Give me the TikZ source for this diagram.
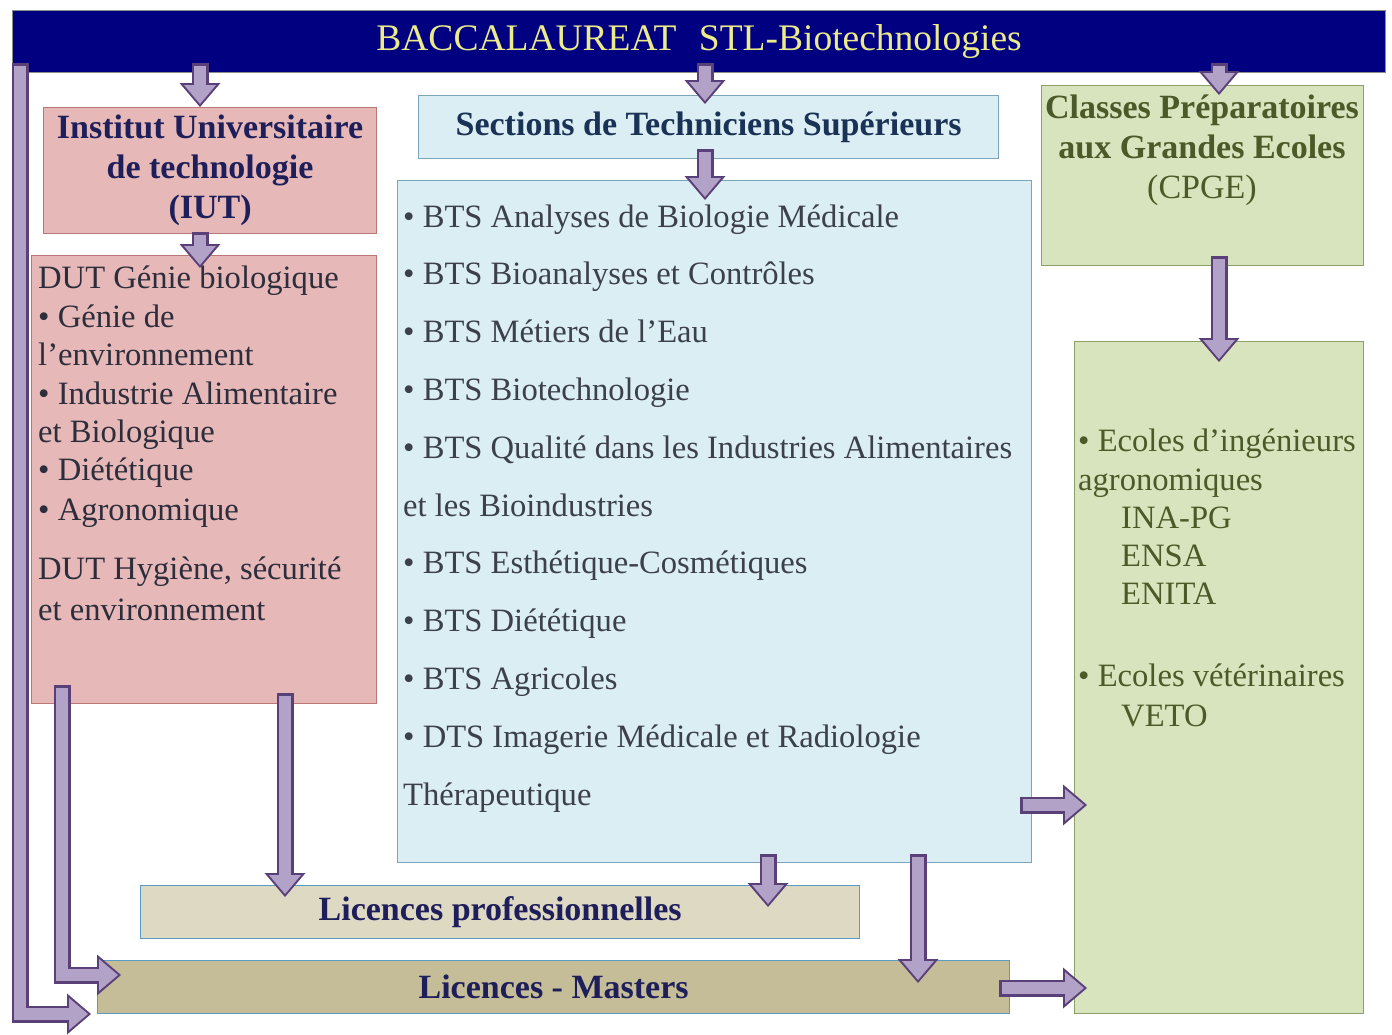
\documentclass[tikz,border=0pt]{standalone}
\usepackage{fontspec}
\setmainfont{Liberation Serif}
\usetikzlibrary{arrows.meta,positioning}

\definecolor{bacblue}{RGB}{0,0,128}
\definecolor{bactext}{RGB}{235,235,140}
\definecolor{iutfill}{RGB}{230,185,184}
\definecolor{iutline}{RGB}{185,120,118}
\definecolor{stsfill}{RGB}{219,238,244}
\definecolor{stsline}{RGB}{125,165,185}
\definecolor{cpgefill}{RGB}{215,228,189}
\definecolor{cpgeline}{RGB}{140,160,105}
\definecolor{lpfill}{RGB}{221,217,195}
\definecolor{lmfill}{RGB}{196,189,151}
\definecolor{licline}{RGB}{90,155,195}
\definecolor{arrowfill}{RGB}{179,162,199}
\definecolor{arrowline}{RGB}{90,64,120}
\definecolor{navytext}{RGB}{30,30,90}
\definecolor{ststext}{RGB}{25,50,85}
\definecolor{cpgetext}{RGB}{75,90,40}
\definecolor{listgray}{RGB}{60,64,72}
\definecolor{dutgray}{RGB}{45,45,60}

\newcommand\headsize{\fontsize{34}{40}\selectfont}
\newcommand\listsize{\fontsize{32.6}{38.5}\selectfont}
\newcommand\bacsize{\fontsize{37.5}{40}\selectfont}

\tikzset{
  box/.style={draw, line width=1.2pt, inner sep=0pt, anchor=north west},
  iutbox/.style={box, fill=iutfill, draw=iutline},
  stsbox/.style={box, fill=stsfill, draw=stsline},
  cpgebox/.style={box, fill=cpgefill, draw=cpgeline},
  licbox/.style={box, draw=licline, font=\headsize\bfseries, text=navytext},
  listtext/.style={anchor=base west, inner sep=0pt, font=\listsize},
  flow/.style={draw=arrowfill, line width=12pt, shorten <=2.5pt, shorten >=3pt,
    -{Triangle[width=32pt,length=19pt,line width=0pt]},
    preaction={draw=arrowline, line width=17pt, shorten <=0pt, shorten >=0pt,
      -{Triangle[width=41pt,length=24pt,line width=0pt]}}},
}

\begin{document}
\begin{tikzpicture}[x=1pt,y=-1pt]
  \useasboundingbox (0,0) rectangle (1392,1034);

  % boxes
  \node[box, fill=bacblue, draw=bactext!60!bacblue, minimum width=1373pt, minimum height=62pt,
    text=bactext, font=\bacsize] (bac) at (12,10) {BACCALAUREAT\hspace{0.6em}STL-Biotechnologies};
  \node[iutbox, minimum width=333pt, minimum height=126pt, align=center,
    font=\headsize\bfseries, text=navytext] (iut) at (43,107) {Institut Universitaire\\de technologie\\(IUT)};
  \node[iutbox, minimum width=345pt, minimum height=448pt] (dut) at (31,255) {};
  \node[stsbox, minimum width=580pt, minimum height=63pt, font=\headsize\bfseries,
    text=ststext] (sts) at (418,95) {Sections de Techniciens Supérieurs};
  \node[stsbox, minimum width=634pt, minimum height=682pt] (bts) at (397,180) {};
  \node[cpgebox, minimum width=322pt, minimum height=180pt] (cpge) at (1041,85) {};
  \node[cpgebox, minimum width=289pt, minimum height=672pt] (ecoles) at (1074,341) {};
  \node[licbox, fill=lpfill, minimum width=719pt, minimum height=53pt] (lp) at (140,885) {Licences professionnelles};
  \node[licbox, fill=lmfill, minimum width=912pt, minimum height=53pt] (lm) at (97,960) {Licences - Masters};

  % texts
  \node[anchor=north, align=center, inner sep=0pt, text=cpgetext, font=\headsize] (cpgetitle)
    at (1202,95) {\textbf{Classes Préparatoires}\\\textbf{aux Grandes Ecoles}\\(CPGE)};
  \foreach \y/\txt [count=\i] in {288/{DUT Génie biologique}, 327/{\textbullet\ Génie de},
      365/{l’environnement}, 404/{\textbullet\ Industrie Alimentaire}, 442/{et Biologique},
      480/{\textbullet\ Diététique}, 520/{\textbullet\ Agronomique},
      579/{DUT Hygiène, sécurité}, 620/{et environnement}}
    \node[listtext, text=dutgray] (dut\i) at (38,\y) {\txt};
  \foreach \txt [count=\i from 0] in {\textbullet\ BTS Analyses de Biologie Médicale,
      \textbullet\ BTS Bioanalyses et Contrôles, \textbullet\ BTS Métiers de l’Eau,
      \textbullet\ BTS Biotechnologie, \textbullet\ BTS Qualité dans les Industries Alimentaires,
      et les Bioindustries, \textbullet\ BTS Esthétique-Cosmétiques, \textbullet\ BTS Diététique,
      \textbullet\ BTS Agricoles, \textbullet\ DTS Imagerie Médicale et Radiologie, Thérapeutique}
    \node[listtext, text=listgray] (bts\i) at (403,227+57.8*\i) {\txt};
  \foreach \x/\y/\txt [count=\i] in {1078/451/{\textbullet\ Ecoles d’ingénieurs},
      1078/490/agronomiques, 1121/528/INA-PG, 1121/566/ENSA, 1121/604/ENITA,
      1078/686/{\textbullet\ Ecoles vétérinaires}, 1121/726/VETO}
    \node[listtext, text=cpgetext] (ecole\i) at (\x,\y) {\txt};

  % arrows
  \coordinate (iutin) at (200,107);
  \coordinate (stsin) at (705,104);
  \coordinate (cpgein) at (1219,95);
  \coordinate (dutin) at (200,268);
  \coordinate (btsin) at (705,200);
  \coordinate (ecolesin) at (1219,362);
  \coordinate (lpin) at (285,897);
  \coordinate (lpin2) at (768,907);
  \coordinate (lmin) at (918,983);
  \coordinate (ecolesin2) at (1087,805);
  \coordinate (ecolesin3) at (1087,988);
  \coordinate (lmin2) at (91,1014);
  \coordinate (lmin3) at (121,975);
  \draw[flow] ([yshift=10pt]iutin |- bac.south) -- (iutin);
  \draw[flow] ([yshift=10pt]stsin |- bac.south) -- (stsin);
  \draw[flow] ([yshift=10pt]cpgein |- bac.south) -- (cpgein);
  \draw[flow] ([yshift=2pt]dutin |- iut.south) -- (dutin);
  \draw[flow] ([yshift=10pt]btsin |- sts.south) -- (btsin);
  \draw[flow] ([yshift=10pt]ecolesin |- cpge.south) -- (ecolesin);
  \draw[flow] ([yshift=11pt]lpin |- dut.south) -- (lpin);
  \draw[flow] ([yshift=9pt]lpin2 |- bts.south) -- (lpin2);
  \draw[flow] ([yshift=9pt]lmin |- bts.south) -- (lmin);
  \draw[flow] ([xshift=-12pt]bts.east |- ecolesin2) -- (ecolesin2);
  \draw[flow] ([xshift=-11pt]lm.east |- ecolesin3) -- (ecolesin3);
  \draw[flow] ([xshift=8pt,yshift=10pt]bac.south west) |- (lmin2);
  \draw[flow] ([xshift=31pt,yshift=19pt]dut.south west) |- (lmin3);
\end{tikzpicture}
\end{document}
